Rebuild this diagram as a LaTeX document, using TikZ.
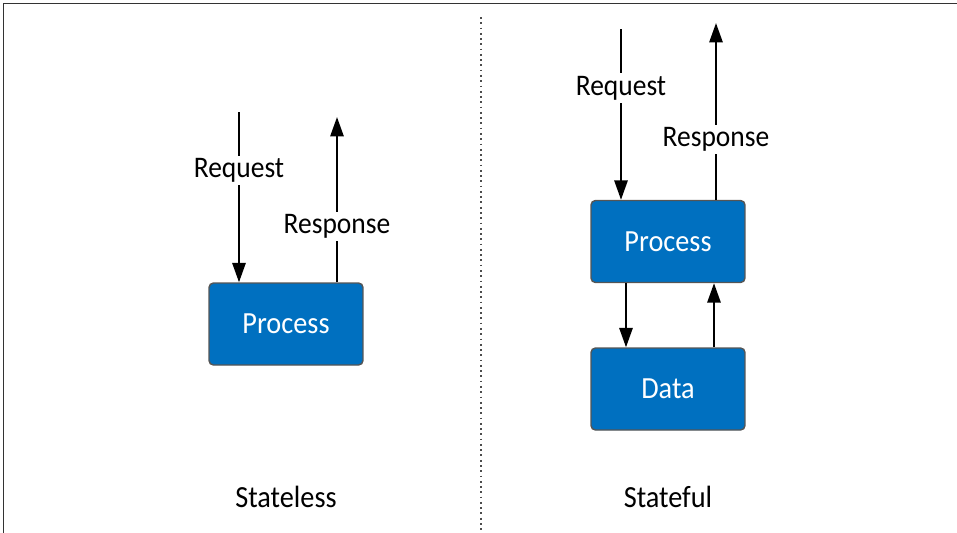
\documentclass[tikz,border=0pt]{standalone}
\usepackage{fontspec}
\setmainfont{Carlito}[FakeStretch=0.92]
\usetikzlibrary{arrows.meta,positioning}
\definecolor{procblue}{RGB}{0,112,192}
\definecolor{boxedge}{RGB}{85,85,85}
\tikzset{
  block/.style={draw=boxedge, line width=0.8pt, fill=procblue, rounded corners=2.5pt,
    minimum width=3.08cm, minimum height=1.64cm, text=white, font=\fontsize{17.5}{19}\selectfont},
  flow/.style={line width=1.2pt, -{Triangle[length=11pt,width=7.5pt]}},
  tag/.style={fill=white, inner sep=1.5pt, font=\fontsize{17}{19}\selectfont},
  caption/.style={font=\fontsize{17.5}{19}\selectfont}
}
\begin{document}
\begin{tikzpicture}[x=0.02cm, y=-0.02cm]
\useasboundingbox (0,0) rectangle (957,532);
% frame and divider
\draw[line width=1.1pt, black!80] (3.5,540) -- (3.5,3.5) -- (965,3.5);
\draw[dotted, line width=1pt, black!70] (481,17) -- (481,532);
% stateless side
\node[block] (procL) at (286,324) {Process};
\coordinate (reqL) at (239,112);
\coordinate (resL) at (337,117);
\draw[flow] (reqL) -- (reqL |- procL.north) node[tag, pos=0.345] {Request};
\draw[flow] (resL |- procL.north) -- (resL) node[tag, pos=0.337] {Response};
\node[caption] (less) at (286,497) {Stateless};
% stateful side
\node[block] (procR) at (668,241.5) {Process};
\node[block] (dataR) at (668,389) {Data};
\coordinate (reqR) at (621,29);
\coordinate (resR) at (716,23);
\draw[flow] (reqR) -- (reqR |- procR.north) node[tag, pos=0.345] {Request};
\draw[flow] (resR |- procR.north) -- (resR) node[tag, pos=0.34] {Response};
\draw[flow] (procR.south -| 626,0) -- (dataR.north -| 626,0);
\draw[flow] (dataR.north -| 714,0) -- (procR.south -| 714,0);
\node[caption] (ful) at (668,497) {Stateful};
\end{tikzpicture}
\end{document}
